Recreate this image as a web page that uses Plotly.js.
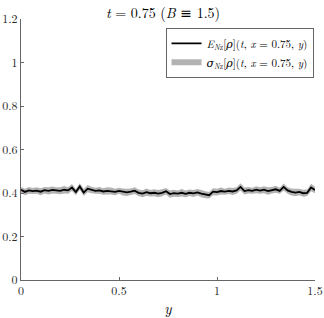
<!DOCTYPE html>
<html>
<head>
<meta charset="utf-8">
<script src="https://cdn.plot.ly/plotly-3.0.1.min.js"></script>
<style>body{margin:0;background:#fff}</style>
</head>
<body>
<div id="chart" style="width:324px;height:318px"></div>
<script>
// y positions (step 0.02)
var yPos = [];
for (var i = 0; i <= 75; i++) yPos.push(+(i * 0.02).toFixed(2));

// mean density E_Nz[rho]
var meanVals = [
  0.415,0.405,0.412,0.409,0.411,0.406,0.413,0.410,0.414,0.411,
  0.410,0.415,0.412,0.425,0.404,0.430,0.402,0.420,0.414,0.410,
  0.412,0.407,0.410,0.409,0.405,0.410,0.405,0.403,0.406,0.411,
  0.401,0.397,0.404,0.399,0.401,0.397,0.401,0.408,0.395,0.399,
  0.397,0.401,0.396,0.401,0.398,0.403,0.397,0.392,0.390,0.406,
  0.404,0.409,0.406,0.410,0.407,0.412,0.428,0.409,0.413,0.410,
  0.415,0.411,0.415,0.409,0.413,0.417,0.410,0.428,0.412,0.405,
  0.402,0.405,0.399,0.401,0.425,0.414
];

// standard deviation sigma_Nz[rho]
var sigmaVals = [
  0.013,0.015,0.016,0.014,0.015,0.016,0.015,0.017,0.016,0.015,
  0.016,0.017,0.015,0.016,0.014,0.015,0.016,0.017,0.015,0.014,
  0.016,0.015,0.017,0.016,0.015,0.014,0.016,0.017,0.015,0.016,
  0.015,0.016,0.017,0.015,0.016,0.017,0.016,0.015,0.017,0.016,
  0.015,0.017,0.016,0.015,0.016,0.015,0.017,0.016,0.015,0.016,
  0.015,0.016,0.014,0.015,0.016,0.015,0.017,0.016,0.015,0.014,
  0.016,0.015,0.016,0.017,0.015,0.016,0.014,0.016,0.015,0.016,
  0.017,0.015,0.016,0.015,0.017,0.015
];

// band polygon: upper edge forward, lower edge back
var bandX = yPos.concat(yPos.slice().reverse());
var bandY = meanVals.map(function (m, i) { return m + sigmaVals[i]; })
  .concat(meanVals.map(function (m, i) { return m - sigmaVals[i]; }).reverse());

var serif = "Latin Modern Roman, DejaVu Serif, serif";

var data = [
  { x: bandX, y: bandY, mode: "none",
    fill: "toself", fillcolor: "#b3b3b3", legendrank: 2, hoverinfo: "skip",
    name: "<i>σ</i><sub><i>N</i>z</sub>[<i>ρ</i>](<i>t</i>, <i>x</i> = 0.75, <i>y</i>)" },
  { x: yPos, y: meanVals, mode: "lines", line: {width: 1.8, color: "#000"},
    legendrank: 1,
    name: "<i>E</i><sub><i>N</i>z</sub>[<i>ρ</i>](<i>t</i>, <i>x</i> = 0.75, <i>y</i>)" }
];

var layout = {
  width: 324, height: 318,
  margin: {l: 21, r: 9, t: 19, b: 38},
  paper_bgcolor: "#fff", plot_bgcolor: "#fff",
  font: {family: serif, size: 12, color: "#262626"},
  title: {text: "<i>t</i> = 0.75 (<i>B</i> ≡ 1.5)", font: {family: serif, size: 14, color: "#000"},
          x: 0.503, xanchor: "center", y: 0.975, yanchor: "top"},
  xaxis: {range: [0, 1.5], tickvals: [0, 0.5, 1, 1.5], ticktext: ["0", "0.5", "1", "1.5"],
          ticks: "inside", ticklen: 3, tickcolor: "#666", showline: true, linecolor: "#666",
          showgrid: false, zeroline: false, fixedrange: true,
          title: {text: "<i>y</i>", font: {family: serif, size: 15, color: "#000"}, standoff: 6}},
  yaxis: {range: [0, 1.2], tickvals: [0, 0.2, 0.4, 0.6, 0.8, 1, 1.2],
          ticktext: ["0", "0.2", "0.4", "0.6", "0.8", "1", "1.2"],
          ticks: "inside", ticklen: 3, tickcolor: "#666", showline: true, linecolor: "#666",
          showgrid: false, zeroline: false, fixedrange: true},
  legend: {x: 0.995, xanchor: "right", y: 0.966, yanchor: "top", traceorder: "normal",
           bgcolor: "#fff", bordercolor: "#666", borderwidth: 1,
           font: {family: serif, size: 11, color: "#000"},
           tracegroupgap: 0, itemwidth: 30}
};

Plotly.newPlot("chart", data, layout, {displayModeBar: false, staticPlot: true});
</script>
</body>
</html>
